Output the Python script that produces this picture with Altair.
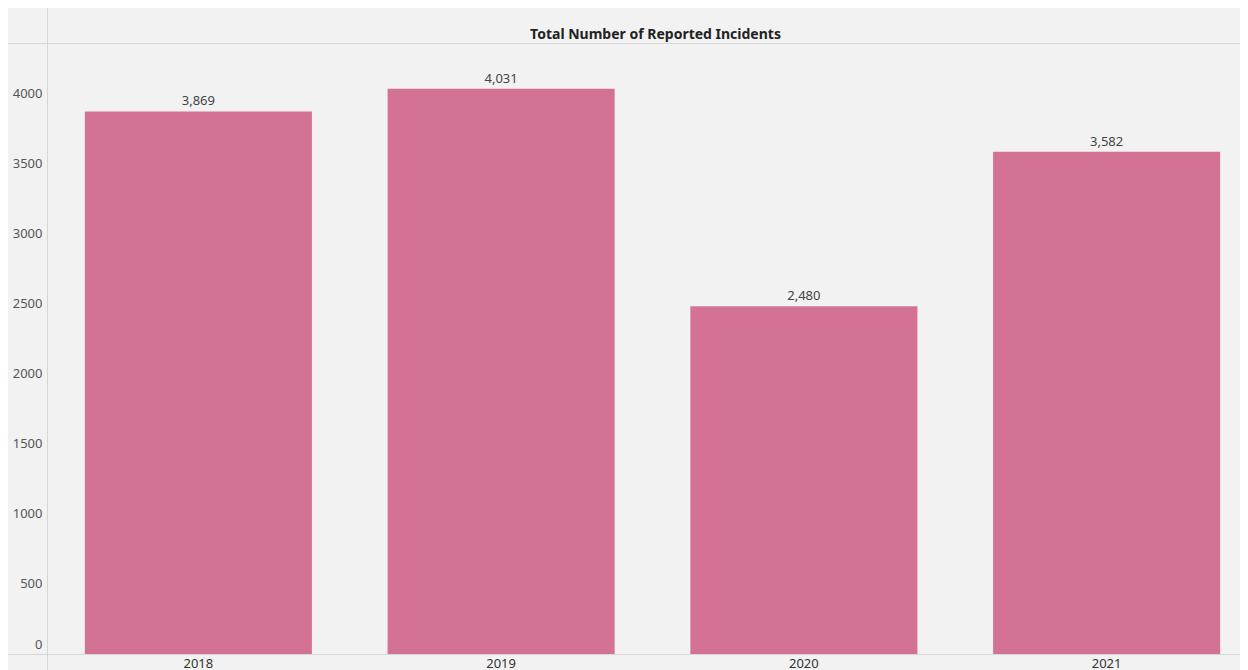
import altair as alt
import pandas as pd

years = ["2018", "2019", "2020", "2021"]
incidents = [3869, 4031, 2480, 3582]
y_ticks = [0, 500, 1000, 1500, 2000, 2500, 3000, 3500, 4000]
title_text = "Total Number of Reported Incidents"

df = pd.DataFrame({"Year": years, "Incidents": incidents})

W, H = 1193, 611
FONT = "Noto Sans"
LINE = "#d6d6d6"

base = alt.Chart(df)

bars = base.mark_bar(color="#d37295").encode(
    x=alt.X(
        "Year:N",
        scale=alt.Scale(range=[0, 1211], paddingInner=0.25, paddingOuter=0.125),
        axis=alt.Axis(title=None, labelAngle=0, ticks=False, domain=False,
                      labelFontSize=13, labelColor="#333333", labelPadding=3,
                      labelFont=FONT),
    ),
    y=alt.Y(
        "Incidents:Q",
        scale=alt.Scale(domain=[0, 4357], nice=False),
        axis=alt.Axis(title=None, values=y_ticks, format="d", grid=False,
                      ticks=False, domain=False, labelPadding=5,
                      labelFlush=True, labelFlushOffset=-3,
                      labelFontSize=13, labelColor="#555555", labelFont=FONT),
    ),
)

labels = base.mark_text(dy=-10, fontSize=13, color="#444444", font=FONT).encode(
    x="Year:N",
    y="Incidents:Q",
    text=alt.Text("Incidents:Q", format=","),
)

one = alt.Data(values=[{}])
vline = alt.Chart(one).mark_rule(color=LINE, strokeWidth=1, clip=False).encode(
    x=alt.value(0.5), y=alt.value(-40), y2=alt.value(H + 30)
)
top_line = alt.Chart(one).mark_rule(color=LINE, strokeWidth=1, clip=False).encode(
    y=alt.value(0.5), x=alt.value(-40), x2=alt.value(W + 20)
)
bottom_line = alt.Chart(one).mark_rule(color=LINE, strokeWidth=1, clip=False).encode(
    y=alt.value(H + 0.5), x=alt.value(-40), x2=alt.value(W + 20)
)

chart = (
    alt.layer(vline, top_line, bottom_line, bars, labels)
    .properties(
        width=W,
        height=H,
        background="#f2f2f2",
        padding={"left": 39, "top": 35, "right": 0, "bottom": 16},
        autosize=alt.AutoSizeParams(type="none"),
        title=alt.TitleParams(title_text, fontSize=14, fontWeight="bold",
                              font=FONT, color="#222222", offset=0, dx=12,
                              dy=39),
    )
    .configure_view(stroke=None)
)

chart.save("out.html", embed_options={"renderer": "svg", "actions": False})
